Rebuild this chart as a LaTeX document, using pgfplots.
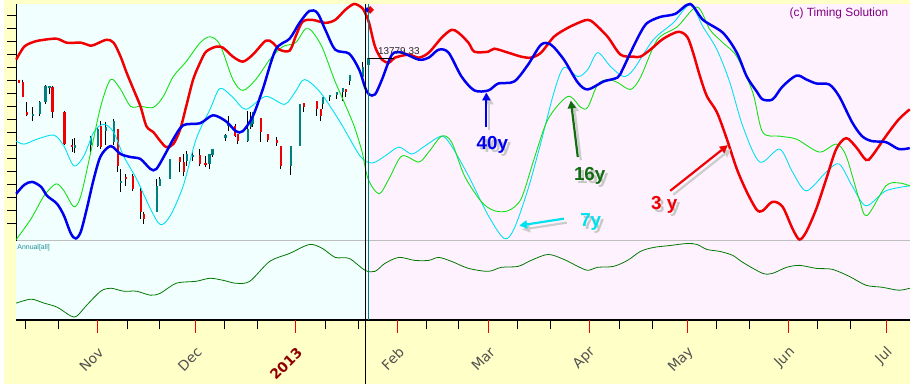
\documentclass[border=0pt]{standalone}
\usepackage{fontspec}
\setmainfont{Liberation Sans}
\newfontfamily\dejavu{DejaVu Sans}
\usepackage{pgfplots}
\pgfplotsset{compat=1.18}
\usetikzlibrary{arrows.meta}
\definecolor{bgyellow}{RGB}{255,255,200}
\definecolor{bgcyan}{RGB}{242,255,255}
\definecolor{bgpink}{RGB}{255,242,255}
\definecolor{cRed}{RGB}{240,0,0}
\definecolor{cBlue}{RGB}{0,0,240}
\definecolor{cGreen}{RGB}{20,225,20}
\definecolor{cCyan}{RGB}{0,225,240}
\definecolor{cTeal}{RGB}{0,128,128}
\definecolor{dkgreen}{RGB}{0,120,0}
\definecolor{lbl}{RGB}{80,80,80}
\definecolor{maroonc}{RGB}{140,0,0}
\definecolor{purp}{RGB}{128,0,128}
\definecolor{annTeal}{RGB}{30,140,150}
\definecolor{arrGreen}{RGB}{16,110,16}
\begin{document}
\begin{tikzpicture}
\begin{axis}[
  scale only axis, width=899bp, height=318bp,
  xmin=12, xmax=911, ymin=-322, ymax=-4,
  clip=false, axis on top,
  axis line style={draw=none},
  tick align=outside, xtick pos=lower, ytick pos=left,
  major tick length=9.5bp,
  tick style={black, line width=0.9bp},
  xtick={21.7,54.3,123.7,156.3,221.7,254.3,323.3,356.7,424.3,456.7,516.7,549.3,618.7,651.7,716.7,749.3,818.3,851.7},
  xticklabels={},
  extra x ticks={93.3,192.3,293.3,395.7,487.3,588.3,687.3,789.3,887.3},
  extra x tick labels={Nov,Dec,{\color{maroonc}\bfseries 2013},Feb,Mar,Apr,May,Jun,Jul},
  extra x tick style={major tick length=13bp, tick style={cRed, line width=1bp}},
  xticklabel style={font=\dejavu\fontsize{14}{16}\selectfont, text=lbl, inner sep=0pt, xshift=4bp, yshift=-17bp, rotate=45, anchor=east},
  ytick={-16,-29.06,-42.12,-55.18,-68.24,-81.3,-94.36,-107.42,-120.48,-133.54,-146.6,-159.66,-172.72,-185.78,-198.84,-211.9,-224.96},
  yticklabels={},
]
% backgrounds
\fill[bgyellow] (axis cs:0,0) rectangle (axis cs:911,-386);
\fill[bgcyan] (axis cs:12,-4) rectangle (axis cs:366,-322);
\fill[bgpink] (axis cs:366,-4) rectangle (axis cs:911,-322);
\draw[black!25, line width=0.8bp] (axis cs:12,-242) -- (axis cs:911,-242);
\draw[black, line width=0.9bp] (axis cs:12,-4) -- (axis cs:12,-242);
\draw[black, line width=2bp] (axis cs:12,-321.5) -- (axis cs:911,-321.5);

% candle wicks
\addplot[black, line width=0.8bp, unbounded coords=jump] coordinates {
(14,-80)(14,-84)(14,nan) (18,-80)(18,-98)(18,nan) (22,-103)(22,-117)(22,nan)
(28,-108)(28,-122)(28,nan) (35,-102)(35,-117)(35,nan) (41,-86)(41,-105)(41,nan)
(45,-87)(45,-95)(45,nan) (48,-87)(48,-119)(48,nan) (60,-112)(60,-146)(60,nan)
(68,-140)(68,-153)(68,nan) (71,-139)(71,-154)(71,nan) (87,-137)(87,-153)(87,nan)
(94,-128)(94,-148)(94,nan) (97,-122)(97,-150)(97,nan) (102,-123)(102,-146)(102,nan)
(110,-120)(110,-146)(110,nan) (114,-130)(114,-173)(114,nan) (117,-170)(117,-193)(117,nan)
(122,-175)(122,-187)(122,nan) (129,-175)(129,-192)(129,nan) (137,-188)(137,-220)(137,nan)
(140,-213)(140,-225)(140,nan) (153,-180)(153,-213)(153,nan) (156,-178)(156,-187)(156,nan)
(166,-160)(166,-180)(166,nan) (176,-158)(176,-173)(176,nan) (180,-155)(180,-177)(180,nan)
(183,-152)(183,-167)(183,nan) (189,-153)(189,-162)(189,nan) (196,-150)(196,-167)(196,nan)
(202,-157)(202,-168)(202,nan) (206,-155)(206,-170)(206,nan) (209,-150)(209,-158)(209,nan)
(222,-135)(222,-142)(222,nan) (225,-117)(225,-132)(225,nan) (232,-125)(232,-138)(232,nan)
(235,-135)(235,-145)(235,nan) (245,-112)(245,-143)(245,nan) (248,-113)(248,-130)(248,nan)
(250,-113)(250,-128)(250,nan) (258,-119)(258,-143)(258,nan) (265,-135)(265,-143)(265,nan)
(274,-138)(274,-147)(274,nan) (278,-147)(278,-170)(278,nan) (288,-147)(288,-176)(288,nan)
(297,-105)(297,-147)(297,nan) (301,-104)(301,-113)(301,nan) (314,-102)(314,-117)(314,nan)
(318,-110)(318,-122)(318,nan) (320,-98)(320,-110)(320,nan) (327,-96)(327,-102)(327,nan)
(334,-93)(334,-100)(334,nan) (340,-89)(340,-102)(340,nan) (343,-90)(343,-98)(343,nan)
(347,-75)(347,-86)(347,nan) (360,-62)(360,-80)(360,nan) (366,-56)(366,-66)
};
% red bodies
\addplot[cRed, line width=2.2bp, line cap=butt, unbounded coords=jump] coordinates {
(14.5,-80)(14.5,-84)(14.5,nan) (18.5,-83)(18.5,-98)(18.5,nan) (22.5,-113)(22.5,-116)(22.5,nan)
(48.5,-88)(48.5,-113)(48.5,nan) (60.5,-113)(60.5,-145)(60.5,nan) (68.5,-146)(68.5,-148)(68.5,nan)
(97.5,-127)(97.5,-148)(97.5,nan) (114.5,-130)(114.5,-167)(114.5,nan) (122.5,-178)(122.5,-180)(122.5,nan)
(129.5,-177)(129.5,-190)(129.5,nan) (137.5,-192)(137.5,-213)(137.5,nan) (140.5,-215)(140.5,-220)(140.5,nan)
(176.5,-158)(176.5,-163)(176.5,nan) (180.5,-163)(180.5,-173)(180.5,nan) (196.5,-156)(196.5,-165)(196.5,nan)
(202.5,-164)(202.5,-166)(202.5,nan) (232.5,-127)(232.5,-137)(232.5,nan) (235.5,-135)(235.5,-142)(235.5,nan)
(258.5,-119)(258.5,-133)(258.5,nan) (265.5,-135)(265.5,-141)(265.5,nan) (274.5,-141)(274.5,-144)(274.5,nan)
(278.5,-147)(278.5,-167)(278.5,nan) (301.5,-104)(301.5,-108)(301.5,nan) (314.5,-102)(314.5,-110)(314.5,nan)
(318.5,-110)(318.5,-117)(318.5,nan) (343.5,-90)(343.5,-93)
};
% teal bodies
\addplot[cTeal, line width=2.2bp, line cap=butt, unbounded coords=jump] coordinates {
(28.5,-115)(28.5,-117)(28.5,nan) (35.5,-103)(35.5,-115)(35.5,nan) (41.5,-87)(41.5,-103)(41.5,nan)
(45.5,-87)(45.5,-89)(45.5,nan) (71.5,-146)(71.5,-149)(71.5,nan) (87.5,-138)(87.5,-146)(87.5,nan)
(94.5,-130)(94.5,-147)(94.5,nan) (102.5,-128)(102.5,-132)(102.5,nan) (110.5,-122)(110.5,-143)(110.5,nan)
(117.5,-182)(117.5,-184)(117.5,nan) (153.5,-187)(153.5,-213)(153.5,nan) (156.5,-180)(156.5,-187)(156.5,nan)
(166.5,-160)(166.5,-180)(166.5,nan) (183.5,-155)(183.5,-162)(183.5,nan) (189.5,-156)(189.5,-158)(189.5,nan)
(206.5,-155)(206.5,-165)(206.5,nan) (209.5,-150)(209.5,-156)(209.5,nan) (222.5,-136)(222.5,-139)(222.5,nan)
(225.5,-125)(225.5,-127)(225.5,nan) (245.5,-130)(245.5,-142)(245.5,nan) (248.5,-120)(248.5,-128)(248.5,nan)
(250.5,-113)(250.5,-125)(250.5,nan) (288.5,-147)(288.5,-167)(288.5,nan) (297.5,-105)(297.5,-147)(297.5,nan)
(320.5,-98)(320.5,-105)(320.5,nan) (327.5,-96)(327.5,-98)(327.5,nan) (334.5,-93)(334.5,-96)(334.5,nan)
(340.5,-89)(340.5,-93)(340.5,nan) (347.5,-75)(347.5,-82)(347.5,nan) (360.5,-67)(360.5,-77)(360.5,nan)
(366.5,-58)(366.5,-65)
};

% 7y cyan
\addplot[cCyan, line width=0.9bp, smooth, tension=0.5] coordinates {
(12,-142)(20,-145)(33,-140)(50,-136)(60,-147)(70,-167)(80,-157)(90,-133)(100,-125)(110,-133)(120,-157)(133,-180)(147,-210)(157,-226)(167,-217)(180,-187)(193,-140)(207,-110)(217,-89)(230,-98)(243,-110)(263,-97)(282,-105)(293,-92)(302,-80)(318,-93)(338,-123)(358,-157)(370,-164)(383,-157)(397,-148)(410,-155)(423,-147)(440,-137)(450,-147)(467,-177)(487,-217)(503,-240)(513,-230)(527,-190)(540,-143)(553,-93)(563,-68)(577,-77)(587,-70)(597,-53)(610,-67)(623,-77)(633,-70)(653,-40)(673,-23)(690,-5)(703,-27)(717,-50)(730,-83)(743,-127)(760,-163)(780,-150)(793,-173)(807,-192)(827,-173)(840,-165)(853,-187)(867,-207)(887,-192)(911,-187)
};
% 16y green
\addplot[cGreen, line width=0.9bp, smooth, tension=0.5] coordinates {
(12,-241)(27,-220)(40,-197)(52,-185)(60,-192)(70,-208)(77,-197)(87,-153)(97,-107)(107,-80)(117,-90)(127,-107)(137,-107)(150,-108)(160,-97)(170,-77)(183,-62)(197,-43)(207,-37)(217,-45)(230,-80)(240,-91)(253,-80)(267,-60)(280,-47)(293,-43)(303,-29)(310,-32)(320,-48)(332,-80)(342,-103)(352,-127)(360,-153)(366,-180)(377,-195)(387,-180)(400,-157)(417,-163)(427,-153)(440,-137)(450,-143)(463,-177)(480,-203)(493,-212)(507,-212)(520,-200)(533,-160)(547,-120)(567,-97)(580,-108)(587,-108)(597,-85)(607,-80)(617,-83)(630,-90)(640,-78)(657,-40)(677,-27)(697,-7)(710,-30)(723,-43)(737,-57)(753,-93)(763,-133)(780,-137)(797,-140)(820,-153)(837,-145)(847,-157)(860,-200)(868,-217)(887,-187)(900,-184)(911,-187)
};
% 3y red
\addplot[cRed, line width=2.5bp, smooth, tension=0.5] coordinates {
(12,-60)(20,-47)(30,-42)(40,-40)(53,-39)(63,-43)(77,-43)(87,-46)(93,-44)(103,-40)(110,-43)(117,-57)(123,-73)(130,-90)(137,-107)(143,-127)(150,-133)(157,-142)(163,-148)(170,-145)(177,-130)(183,-107)(190,-80)(197,-63)(203,-52)(213,-47)(220,-48)(230,-57)(240,-62)(250,-55)(263,-41)(270,-43)(277,-50)(287,-51)(293,-37)(300,-22)(310,-20)(323,-23)(333,-20)(343,-10)(352,-4)(360,-8)(363,-13)(367,-23)(373,-47)(380,-60)(387,-63)(393,-58)(407,-55)(417,-58)(427,-53)(440,-38)(450,-30)(457,-33)(467,-43)(473,-52)(487,-52)(493,-49)(507,-53)(520,-57)(530,-58)(540,-53)(553,-37)(567,-28)(580,-22)(587,-20)(593,-23)(607,-37)(620,-55)(633,-57)(640,-57)(650,-50)(663,-39)(678,-32)(687,-37)(693,-53)(700,-77)(707,-97)(717,-113)(727,-140)(737,-170)(747,-193)(757,-211)(763,-212)(773,-203)(783,-208)(793,-230)(800,-241)(807,-233)(817,-210)(827,-180)(837,-150)(847,-139)(857,-148)(867,-161)(873,-157)(887,-137)(900,-120)(911,-110)
};
% 40y blue
\addplot[cBlue, line width=2.5bp, smooth, tension=0.5] coordinates {
(12,-195)(20,-186)(28,-183)(37,-188)(43,-197)(53,-205)(60,-217)(67,-235)(72,-240)(77,-233)(83,-210)(90,-180)(97,-157)(107,-147)(117,-155)(127,-158)(137,-160)(147,-170)(153,-170)(163,-153)(170,-140)(180,-126)(197,-124)(210,-116)(223,-122)(233,-132)(240,-132)(250,-117)(260,-90)(273,-50)(287,-39)(297,-23)(307,-11)(315,-13)(323,-30)(333,-50)(347,-54)(357,-70)(363,-88)(367,-95)(373,-95)(380,-80)(390,-55)(400,-53)(417,-60)(427,-58)(437,-50)(447,-53)(460,-77)(473,-91)(487,-91)(497,-84)(513,-82)(527,-65)(540,-45)(550,-45)(563,-60)(577,-83)(587,-90)(603,-82)(617,-78)(622,-70)(630,-53)(640,-33)(647,-23)(660,-17)(675,-14)(690,-4)(703,-20)(723,-33)(737,-53)(747,-77)(757,-92)(763,-100)(773,-100)(783,-87)(797,-76)(807,-80)(817,-84)(830,-85)(840,-97)(853,-123)(863,-137)(873,-142)(887,-143)(900,-150)(911,-149)
};
% Annual
\addplot[dkgreen, line width=0.8bp, smooth, tension=0.5] coordinates {
(12,-305)(27,-301)(40,-305)(53,-309)(67,-318)(73,-318)(83,-307)(97,-293)(107,-290)(120,-293)(133,-293)(147,-297)(157,-295)(173,-285)(193,-283)(207,-280)(220,-282)(233,-285)(247,-283)(267,-263)(287,-255)(307,-246)(320,-250)(333,-259)(347,-260)(363,-272)(373,-273)(383,-265)(397,-259)(413,-262)(427,-262)(437,-259)(450,-263)(467,-270)(487,-273)(500,-269)(517,-268)(530,-262)(547,-256)(563,-261)(577,-268)(587,-272)(597,-269)(613,-268)(627,-262)(640,-253)(653,-249)(670,-247)(687,-245)(697,-246)(707,-251)(720,-253)(733,-257)(743,-264)(763,-275)(773,-275)(787,-269)(800,-267)(817,-270)(833,-271)(850,-278)(867,-287)(883,-289)(900,-292)(911,-290)
};

% vertical lines
\draw[black, line width=1bp] (axis cs:363.5,-4) -- (axis cs:363.5,-386);
\draw[cTeal, line width=1bp] (axis cs:366.5,-4) -- (axis cs:366.5,-322);
% price label
\draw[black, line width=0.8bp] (axis cs:366,-58.5) -- (axis cs:392,-58.5);
\node[anchor=west, inner sep=0pt, font=\fontsize{10}{12}\selectfont, text=black!85] at (axis cs:376,-51) {13779.33};
% top marker
\fill[cRed] (axis cs:365,-10) -- (axis cs:368,-6) -- (axis cs:372,-10) -- (axis cs:368,-14) -- cycle;
\fill[cBlue] (axis cs:363,-10) -- (axis cs:365,-7) -- (axis cs:367,-10) -- (axis cs:365,-13) -- cycle;

% texts
\node[anchor=west, inner sep=0pt, font=\fontsize{12}{14}\selectfont, text=purp] at (axis cs:790,-14) {(c) Timing Solution};
\node[anchor=west, inner sep=0pt, font=\fontsize{7}{8}\selectfont, text=annTeal] at (axis cs:13,-249) {Annual[all]};

% annotation arrows (shadows)
\begin{scope}[black!20, line width=2.2bp]
\draw[-{Triangle[length=8bp,width=8bp]}] (axis cs:488,-131) -- (axis cs:488,-97);
\draw[-{Triangle[length=8bp,width=8bp]}] (axis cs:580,-161) -- (axis cs:573,-104);
\draw[-{Triangle[length=8bp,width=8bp]}] (axis cs:566,-224) -- (axis cs:521,-231);
\draw[-{Triangle[length=8bp,width=8bp]}] (axis cs:673,-196) -- (axis cs:731,-150);
\end{scope}
\draw[cBlue, line width=2.2bp, -{Triangle[length=8bp,width=8bp]}] (axis cs:485,-128) -- (axis cs:485,-93);
\draw[arrGreen, line width=2.2bp, -{Triangle[length=8bp,width=8bp]}] (axis cs:577,-158) -- (axis cs:570,-101);
\draw[cCyan, line width=2.2bp, -{Triangle[length=8bp,width=8bp]}] (axis cs:563,-220) -- (axis cs:518,-227);
\draw[cRed, line width=2.2bp, -{Triangle[length=8bp,width=8bp]}] (axis cs:670,-192) -- (axis cs:728,-146);

\tikzset{lab/.style={font=\bfseries\fontsize{19}{22}\selectfont, inner sep=0pt}}
\node[lab, text=black!22] at (axis cs:494,-149) {40y};
\node[lab, text=cBlue] at (axis cs:491,-146) {40y};
\node[lab, text=black!22] at (axis cs:592,-180) {16y};
\node[lab, text=arrGreen] at (axis cs:589,-177) {16y};
\node[lab, text=black!22] at (axis cs:593,-226) {7y};
\node[lab, text=cCyan] at (axis cs:590,-223) {7y};
\node[lab, text=black!22] at (axis cs:667,-209) {3 y};
\node[lab, text=cRed] at (axis cs:664,-206) {3 y};
\end{axis}
\end{tikzpicture}
\end{document}
